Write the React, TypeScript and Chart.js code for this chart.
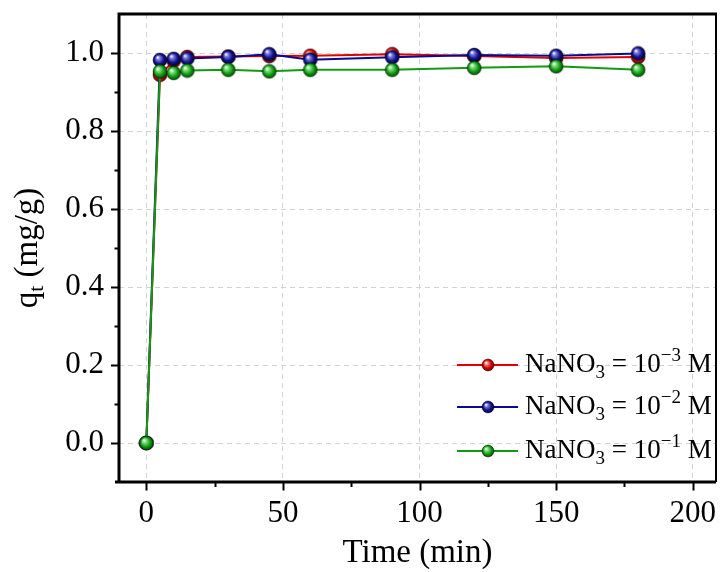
import React, { useEffect, useRef } from "react";
import { Chart, registerables } from "chart.js";

Chart.register(...registerables);

const timeMin = [0, 5, 10, 15, 30, 45, 60, 90, 120, 150, 180];
const qt1e3 = [0, 0.944, 0.98, 0.99, 0.991, 0.992, 0.993, 0.997, 0.992, 0.987, 0.99];
const qt1e2 = [0, 0.982, 0.985, 0.986, 0.99, 0.997, 0.983, 0.989, 0.995, 0.993, 0.999];
const qt1e1 = [0, 0.953, 0.949, 0.955, 0.957, 0.953, 0.957, 0.957, 0.962, 0.966, 0.957];

const xTicks = [0, 50, 100, 150, 200];
const xMinor = [25, 75, 125, 175];
const yTicks = [0, 0.2, 0.4, 0.6, 0.8, 1.0];
const yMinor = [0.1, 0.3, 0.5, 0.7, 0.9];

const seriesExp = ["\u22123", "\u22122", "\u22121"];
const lineColors = ["#e00000", "#0a0a8c", "#139a13"];
const fillColors = ["#d80000", "#14148f", "#13a013"];
const lightColors = ["#ff8080", "#7a7ae0", "#80e080"];
const darkColors = ["#700000", "#000040", "#004d00"];

const FONT = "'Liberation Serif', 'Times New Roman', serif";

function sphere(i: number, r: number): HTMLCanvasElement {
  const c = document.createElement("canvas");
  const s = Math.ceil(r * 2 + 2);
  c.width = s;
  c.height = s;
  const g = c.getContext("2d")!;
  const cx = s / 2, cy = s / 2;
  const grad = g.createRadialGradient(cx - r * 0.35, cy - r * 0.4, r * 0.05, cx, cy, r);
  grad.addColorStop(0, "#ffffff");
  grad.addColorStop(0.25, lightColors[i]);
  grad.addColorStop(0.65, fillColors[i]);
  grad.addColorStop(1, darkColors[i]);
  g.fillStyle = grad;
  g.beginPath();
  g.arc(cx, cy, r, 0, Math.PI * 2);
  g.fill();
  g.lineWidth = 0.8;
  g.strokeStyle = "rgba(0,0,0,0.55)";
  g.stroke();
  return c;
}

type Part = { t: string; sub?: boolean; sup?: boolean };

function richWidth(ctx: CanvasRenderingContext2D, parts: Part[], big: number, small: number) {
  let w = 0;
  for (const p of parts) {
    ctx.font = `${p.sub || p.sup ? small : big}px ${FONT}`;
    w += ctx.measureText(p.t).width;
  }
  return w;
}

function drawRich(ctx: CanvasRenderingContext2D, x: number, y: number, parts: Part[], big: number, small: number, subOff: number, supOff: number) {
  let cx = x;
  for (const p of parts) {
    ctx.font = `${p.sub || p.sup ? small : big}px ${FONT}`;
    const dy = p.sub ? subOff : p.sup ? -supOff : 0;
    ctx.fillText(p.t, cx, y + dy);
    cx += ctx.measureText(p.t).width;
  }
}

export default function App() {
  const ref = useRef<HTMLCanvasElement>(null);

  useEffect(() => {
    const canvas = ref.current!;
    const series = [qt1e3, qt1e2, qt1e1];
    const plotMarkers = series.map((_, i) => sphere(i, 7));
    const legendMarkers = series.map((_, i) => sphere(i, 6));

    const framePlugin = {
      id: "frameAndText",
      afterDraw(chart: any) {
        const ctx: CanvasRenderingContext2D = chart.ctx;
        const { left, right, top, bottom } = chart.chartArea;
        const xs = chart.scales.x;
        const ys = chart.scales.y;
        ctx.save();
        ctx.strokeStyle = "#000";
        ctx.lineCap = "butt";
        // ticks
        ctx.lineWidth = 2;
        for (const v of yTicks) {
          const py = Math.round(ys.getPixelForValue(v)) + 0.5;
          ctx.beginPath(); ctx.moveTo(left - 8, py); ctx.lineTo(left, py); ctx.stroke();
        }
        for (const v of yMinor) {
          const py = Math.round(ys.getPixelForValue(v)) + 0.5;
          ctx.beginPath(); ctx.moveTo(left - 4.5, py); ctx.lineTo(left, py); ctx.stroke();
        }
        for (const v of xTicks) {
          const px = Math.round(xs.getPixelForValue(v)) + 0.5;
          ctx.beginPath(); ctx.moveTo(px, bottom); ctx.lineTo(px, bottom + 8.5); ctx.stroke();
        }
        for (const v of xMinor) {
          const px = Math.round(xs.getPixelForValue(v)) + 0.5;
          ctx.beginPath(); ctx.moveTo(px, bottom); ctx.lineTo(px, bottom + 5); ctx.stroke();
        }
        // frame
        ctx.lineWidth = 3;
        ctx.beginPath();
        ctx.moveTo(left - 4, bottom); ctx.lineTo(right, bottom);
        ctx.moveTo(left, bottom + 1.5); ctx.lineTo(left, top - 1.5);
        ctx.moveTo(left - 1.5, top); ctx.lineTo(right + 1, top);
        ctx.stroke();
        ctx.lineWidth = 2;
        ctx.beginPath();
        ctx.moveTo(right, top); ctx.lineTo(right, bottom);
        ctx.stroke();

        ctx.fillStyle = "#000";
        // x title
        ctx.font = `33px ${FONT}`;
        ctx.textAlign = "center";
        ctx.textBaseline = "alphabetic";
        ctx.fillText("Time (min)", (left + right) / 2, 562);

        // y title
        const yParts: Part[] = [{ t: "q" }, { t: "t", sub: true }, { t: " (mg/g)" }];
        ctx.textAlign = "left";
        const w = richWidth(ctx, yParts, 33, 22);
        ctx.save();
        ctx.translate(37, (top + bottom) / 2);
        ctx.rotate(-Math.PI / 2);
        drawRich(ctx, -w / 2, 0, yParts, 33, 22, 6, 0);
        ctx.restore();

        // legend
        const rowsY = [bottom - 117, bottom - 75, bottom - 31];
        ctx.textBaseline = "middle";
        series.forEach((_, i) => {
          const ry = rowsY[i];
          ctx.strokeStyle = lineColors[i];
          ctx.lineWidth = 2;
          ctx.beginPath();
          ctx.moveTo(right - 259, ry); ctx.lineTo(right - 198, ry);
          ctx.stroke();
          const m = legendMarkers[i];
          ctx.drawImage(m, right - 228 - m.width / 2, ry - m.height / 2);
          ctx.fillStyle = "#000";
          const parts: Part[] = [
            { t: "NaNO" }, { t: "3", sub: true }, { t: " = 10" }, { t: seriesExp[i], sup: true }, { t: " M" },
          ];
          drawRich(ctx, right - 191, ry, parts, 27, 19, 8, 9);
        });
        ctx.restore();
      },
    };

    const chart = new Chart(canvas, {
      type: "line",
      data: {
        datasets: series.map((vals, i) => ({
          label: `NaNO3 = 10${seriesExp[i]} M`,
          data: timeMin.map((t, k) => ({ x: t, y: vals[k] })),
          borderColor: lineColors[i],
          backgroundColor: fillColors[i],
          borderWidth: 2,
          pointStyle: plotMarkers[i] as any,
          pointRadius: 7,
          tension: 0,
          fill: false,
          order: series.length - 1 - i,
        })),
      },
      options: {
        responsive: false,
        animation: false,
        layout: { padding: { left: 0, right: 3, top: 14, bottom: 0 } },
        plugins: { legend: { display: false }, tooltip: { enabled: false } },
        scales: {
          x: {
            type: "linear",
            min: -10,
            max: 208.5,
            afterBuildTicks: (s: any) => { s.ticks = xTicks.map((v) => ({ value: v })); },
            afterFit: (s: any) => {
              s.height = 90;
              s.paddingLeft = 0; s.paddingRight = 0; s.paddingTop = 0; s.paddingBottom = 0;
            },
            grid: { color: "#d2d2d2", lineWidth: 1, drawTicks: false },
            border: { display: false, dash: [5, 4] },
            ticks: {
              color: "#000",
              font: { family: FONT, size: 31 },
              padding: 13,
              maxRotation: 0,
              callback: (v: any) => String(v),
            },
          },
          y: {
            type: "linear",
            min: -0.1,
            max: 1.1,
            afterBuildTicks: (s: any) => { s.ticks = yTicks.map((v) => ({ value: v })); },
            afterFit: (s: any) => {
              s.width = 119;
              s.paddingLeft = 0; s.paddingRight = 0; s.paddingTop = 0; s.paddingBottom = 0;
            },
            grid: { color: "#d2d2d2", lineWidth: 1, drawTicks: false },
            border: { display: false, dash: [5, 4] },
            ticks: {
              color: "#000",
              font: { family: FONT, size: 31 },
              padding: 15,
              callback: (v: any) => Number(v).toFixed(1),
            },
          },
        },
      },
      plugins: [framePlugin],
    });
    return () => chart.destroy();
  }, []);

  return (
    <div style={{ position: "absolute", left: 0, top: 0, width: 725, height: 572, background: "#fff" }}>
      <canvas ref={ref} width={725} height={572} style={{ display: "block" }} />
    </div>
  );
}
